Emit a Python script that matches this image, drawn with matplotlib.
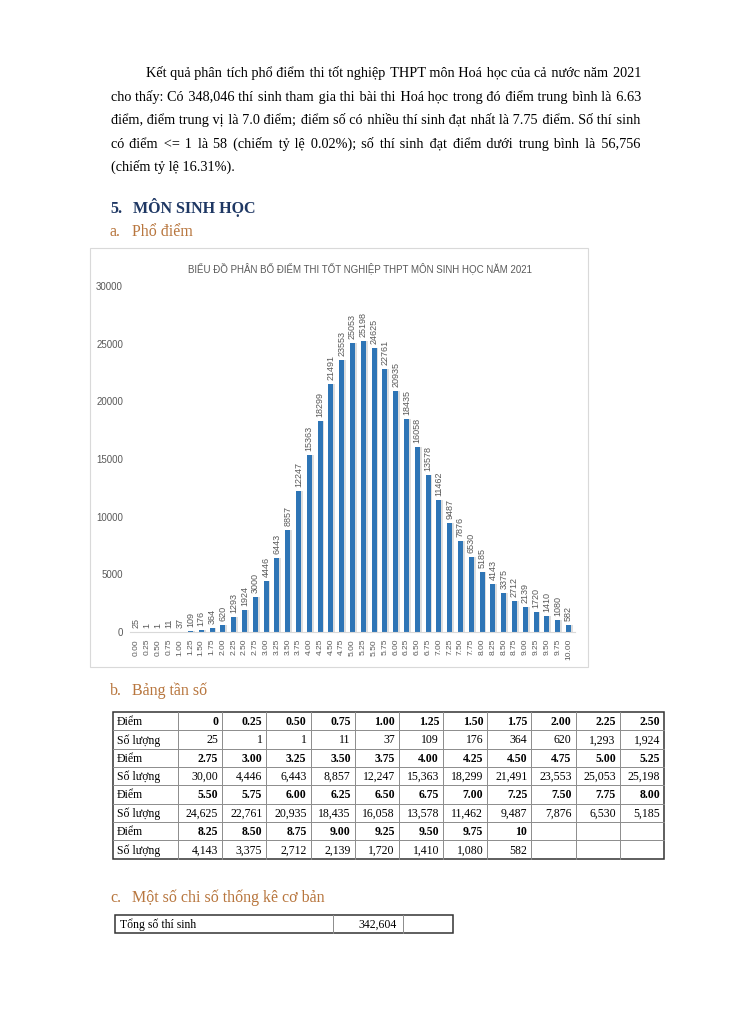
import matplotlib
matplotlib.use("Agg")
import matplotlib.pyplot as plt

# du lieu pho diem mon Sinh hoc 2021
score_labels = ["0.00", "0.25", "0.50", "0.75", "1.00", "1.25", "1.50", "1.75", "2.00", "2.25",
                "2.50", "2.75", "3.00", "3.25", "3.50", "3.75", "4.00", "4.25", "4.50", "4.75",
                "5.00", "5.25", "5.50", "5.75", "6.00", "6.25", "6.50", "6.75", "7.00", "7.25",
                "7.50", "7.75", "8.00", "8.25", "8.50", "8.75", "9.00", "9.25", "9.50", "9.75",
                "10.00"]
counts = [25, 1, 1, 11, 37, 109, 176, 364, 620, 1293, 1924, 3000, 4446, 6443, 8857, 12247,
          15363, 18299, 21491, 23553, 25053, 25198, 24625, 22761, 20935, 18435, 16058, 13578,
          11462, 9487, 7876, 6530, 5185, 4143, 3375, 2712, 2139, 1720, 1410, 1080, 582]
yticks = [0, 5000, 10000, 15000, 20000, 25000, 30000]

table_scores = ["0", "0.25", "0.50", "0.75", "1.00", "1.25", "1.50", "1.75", "2.00", "2.25",
                "2.50", "2.75", "3.00", "3.25", "3.50", "3.75", "4.00", "4.25", "4.50", "4.75",
                "5.00", "5.25", "5.50", "5.75", "6.00", "6.25", "6.50", "6.75", "7.00", "7.25",
                "7.50", "7.75", "8.00", "8.25", "8.50", "8.75", "9.00", "9.25", "9.50", "9.75",
                "10"]
table_counts = ["{:,}".format(c) for c in counts]
table_counts[11] = "30,00"  # giu nguyen nhu trong tai lieu

paragraph = [
    "Kết quả phân tích phổ điểm thi tốt nghiệp THPT môn Hoá học của cả nước năm 2021",
    "cho thấy: Có 348,046 thí sinh tham gia thi bài thi Hoá học trong đó điểm trung bình là 6.63",
    "điểm, điểm trung vị là 7.0 điểm; điểm số có nhiều thí sinh đạt nhất là 7.75 điểm. Số thí sinh",
    "có điểm <= 1 là 58 (chiếm tỷ lệ 0.02%); số thí sinh đạt điểm dưới trung bình là 56,756",
    "(chiếm tỷ lệ 16.31%).",
]

SERIF = "Liberation Serif"
SANS = "Liberation Sans"
NAVY = "#1f3864"
BROWN = "#b8763e"
GRAY = "#595959"
BLUE = "#2e75b6"
HAIR = "\u200a"

fig = plt.figure(figsize=(7.3, 10.32), dpi=100)
page = fig.add_axes([0, 0, 1, 1])
page.set_xlim(0, 730)
page.set_ylim(1032, 0)
page.axis("off")
renderer = fig.canvas.get_renderer()


def width_of(t):
    return t.get_window_extent(renderer).width


def justify(line, x0, x1, y, **kw):
    # mot dong = mot doi tuong text, gian dong bang hair space
    words = line.split()
    n = len(words) - 1
    t = page.text(x0, y, "aa", **kw)
    base = width_of(t)
    t.set_text("a" + HAIR * 10 + "a")
    hw = (width_of(t) - base) / 10
    t.set_text(line)
    extra = x1 - x0 - width_of(t)
    k = max(0, int(round(extra / hw))) if hw > 0 else 0
    out = words[0]
    for i in range(n):
        m = (i + 1) * k // n - i * k // n
        out += " " + HAIR * m + words[i + 1]
    t.set_text(out)


# doan van
txt = dict(family=[SERIF, "DejaVu Sans"], fontsize=10.3, color="black", va="baseline")
line_y = [77, 100.5, 124, 147.5, 170.5]
justify(paragraph[0], 146, 641, line_y[0], **txt)
for i in range(1, 4):
    justify(paragraph[i], 111, 641, line_y[i], **txt)
page.text(111, line_y[4], paragraph[4], **txt)

# tieu de
page.text(110, 213, "5.", family=SERIF, fontsize=11.5, weight="bold", color=NAVY, va="baseline")
page.text(133, 213, "MÔN SINH HỌC", family=SERIF, fontsize=11.5, weight="bold", color=NAVY, va="baseline")
page.text(110, 236, "a.", family=SERIF, fontsize=11.5, color=BROWN, va="baseline")
page.text(132, 236, "Phổ điểm", family=SERIF, fontsize=11.5, color=BROWN, va="baseline")

# khung bieu do
page.add_patch(plt.Rectangle((90, 248), 498, 419, fill=False, ec="#d9d9d9", lw=0.8))

# bieu do cot
ax = fig.add_axes([130 / 730, 1 - 632 / 1032, 445 / 730, 346 / 1032])
ax.patch.set_alpha(0)
x = list(range(len(counts)))
ax.bar([i + 0.17 for i in x], counts, width=0.47, color="#c8c8c8", alpha=0.6, zorder=1)
ax.bar(x, counts, width=0.47, color=BLUE, zorder=2)
for i, c in zip(x, counts):
    ax.text(i, c + 350, str(c), rotation=90, ha="center", va="bottom",
            family=SANS, fontsize=6.5, color=GRAY, clip_on=False)
ax.set_xlim(-0.6, len(counts) - 0.4)
ax.set_ylim(0, 30000)
ax.set_yticks(yticks)
ax.set_yticklabels([str(t) for t in yticks], family=SANS, fontsize=7, color=GRAY)
ax.set_xticks(x)
ax.set_xticklabels(score_labels, rotation=90, family=SANS, fontsize=6, color=GRAY)
ax.tick_params(length=0, pad=5)
for s in ["top", "right", "left"]:
    ax.spines[s].set_visible(False)
ax.spines["bottom"].set_color("#d9d9d9")
ax.spines["bottom"].set_linewidth(0.8)
page.text(360, 268, "BIỂU ĐỒ PHÂN BỐ ĐIỂM THI TỐT NGHIỆP THPT MÔN SINH HỌC NĂM 2021",
          family=SANS, fontsize=7, color=GRAY, ha="center", va="center")

# bang tan so
page.text(110, 695, "b.", family=SERIF, fontsize=11.5, color=BROWN, va="baseline")
page.text(132, 695, "Bảng tần số", family=SERIF, fontsize=11.5, color=BROWN, va="baseline")

top, rh = 712, 18.35
left, c0, cw, ncol = 113, 178, 44.18, 11
right = c0 + cw * ncol
nrow = 8
bottom = top + rh * nrow
for r in range(1, nrow):
    page.plot([left, right], [top + r * rh] * 2, color="#8c8c8c", lw=0.7)
for k in range(ncol):
    xc = c0 + k * cw
    page.plot([xc, xc], [top, bottom], color="#8c8c8c", lw=0.7)
page.add_patch(plt.Rectangle((left, top), right - left, bottom - top, fill=False, ec="#333333", lw=1.1))

cell = dict(family=SERIF, fontsize=8.5, color="black", va="center")
for blk in range(4):
    yd = top + (2 * blk + 0.55) * rh
    ys = top + (2 * blk + 1.55) * rh
    page.text(117, yd, "Điểm", **cell)
    page.text(117, ys, "Số lượng", **cell)
    for k in range(ncol):
        idx = blk * ncol + k
        if idx >= len(table_scores):
            continue
        xr = c0 + (k + 1) * cw - 4
        page.text(xr, yd, table_scores[idx], ha="right", weight="bold", **cell)
        page.text(xr, ys, table_counts[idx], ha="right", **cell)

# chi so thong ke
page.text(110, 902, "c.", family=SERIF, fontsize=11.5, color=BROWN, va="baseline")
page.text(132, 902, "Một số chi số thống kê cơ bản", family=SERIF, fontsize=11.5, color=BROWN, va="baseline")
page.add_patch(plt.Rectangle((115, 915), 338, 18, fill=False, ec="#333333", lw=1.1))
page.plot([333, 333], [915, 933], color="#8c8c8c", lw=0.7)
page.plot([403, 403], [915, 933], color="#8c8c8c", lw=0.7)
page.text(120, 924.5, "Tổng số thí sinh", **cell)
page.text(397, 924.5, "342,604", ha="right", **cell)

fig.savefig("out.png", dpi=100)
